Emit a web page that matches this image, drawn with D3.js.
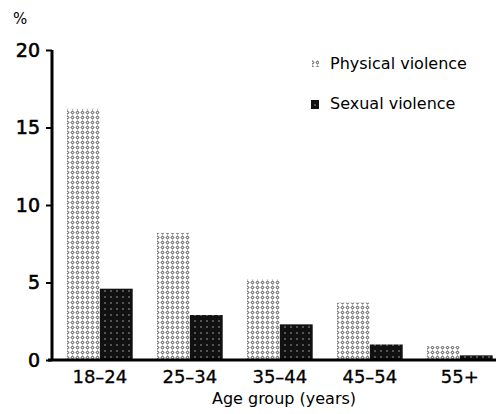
<!DOCTYPE html>
<html><head><meta charset="utf-8">
<script src="https://cdn.jsdelivr.net/npm/d3@7"></script>
<style>body{margin:0;background:#fff}svg{display:block}text{font-family:"DejaVu Sans",sans-serif;fill:#000}</style>
</head><body>
<script>
const categories = ["18\u201324","25\u201334","35\u201344","45\u201354","55+"];
const physical = [16.2, 8.2, 5.2, 3.7, 0.9];
const sexual = [4.6, 2.9, 2.3, 1.0, 0.3];
const yTicks = [0,5,10,15,20];
const seriesNames = ["Physical violence","Sexual violence"];

const W=496,H=414;
const svg=d3.select("body").append("svg").attr("width",W).attr("height",H);
const defs=svg.append("defs");
const p1=defs.append("pattern").attr("id","phys").attr("patternUnits","userSpaceOnUse").attr("width",5).attr("height",5);
p1.append("rect").attr("width",5).attr("height",5).attr("fill","#fff");
p1.append("path").attr("d","M2.5,0.3 L4.6,2.5 L2.5,4.7 L0.4,2.5Z").attr("fill","#6a6a6a");
p1.append("circle").attr("cx",2.5).attr("cy",2.5).attr("r",0.8).attr("fill","#eee");
const p2=defs.append("pattern").attr("id","sex").attr("patternUnits","userSpaceOnUse").attr("width",6).attr("height",6);
p2.append("rect").attr("width",6).attr("height",6).attr("fill","#111");
p2.append("circle").attr("cx",3).attr("cy",3).attr("r",0.8).attr("fill","#aaa");

const y=d3.scaleLinear().domain([0,20]).range([360,50]);
const x=d3.scaleBand().domain(categories).range([40,519.7]).paddingInner(0.27).paddingOuter(0.3);
const xs=d3.scaleBand().domain([0,1]).range([0,x.bandwidth()]);

const g=svg.append("g");
categories.forEach((c,i)=>{
  [physical[i],sexual[i]].forEach((v,j)=>{
    g.append("rect").attr("x",x(c)+xs(j)).attr("width",xs.bandwidth())
     .attr("y",y(v)).attr("height",y(0)-y(v)).attr("fill",j===0?"url(#phys)":"url(#sex)");
  });
});

// y axis
const ya=svg.append("g").attr("transform","translate(52,0)").call(d3.axisLeft(y).tickValues(yTicks).tickSize(6).tickPadding(6));
ya.select(".domain").attr("stroke","#000").attr("stroke-width",3).attr("d","M0,50V360");
ya.selectAll(".tick line").attr("stroke-width",2);
ya.selectAll(".tick text").attr("font-size",19).attr("font-family","DejaVu Sans, sans-serif").attr("fill","#000").attr("stroke","#000").attr("stroke-width",0.6);

// x axis
const xa=svg.append("g").attr("transform","translate(0,360)").call(d3.axisBottom(x).tickSize(0).tickPadding(10));
xa.select(".domain").attr("stroke","#000").attr("stroke-width",3).attr("d","M48,0H496");
xa.selectAll(".tick text").attr("font-size",18).attr("font-family","DejaVu Sans, sans-serif").attr("fill","#000").attr("stroke","#000").attr("stroke-width",0.3);

svg.append("text").attr("x",13).attr("y",24).attr("font-size",15).text("%");
svg.append("text").attr("x",284).attr("y",404).attr("text-anchor","middle").attr("font-size",16).text("Age group (years)");

// legend
const lg=svg.append("g");
lg.append("rect").attr("x",312).attr("y",60).attr("width",7).attr("height",7).attr("fill","url(#phys)");
lg.append("text").attr("x",330).attr("y",69).attr("font-size",16).text(seriesNames[0]);
lg.append("rect").attr("x",311).attr("y",100).attr("width",8).attr("height",9).attr("fill","url(#sex)");
lg.append("text").attr("x",330).attr("y",109).attr("font-size",16).text(seriesNames[1]);
</script>
</body></html>
